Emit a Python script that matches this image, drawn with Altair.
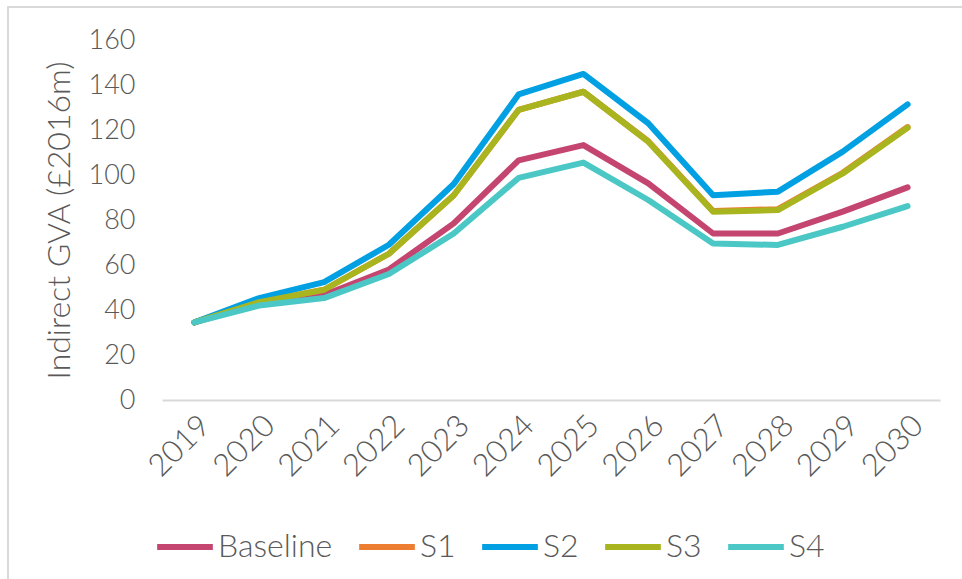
import altair as alt
import pandas as pd

years = ["2019", "2020", "2021", "2022", "2023", "2024", "2025", "2026", "2027", "2028", "2029", "2030"]
series = ["Baseline", "S1", "S2", "S3", "S4"]
baseline = [34.5, 43.0, 46.7, 58.0, 78.5, 106.5, 113.3, 96.3, 74.0, 74.0, 83.7, 94.5]
s1 = [34.5, 43.5, 49.0, 65.0, 91.0, 128.9, 137.0, 115.0, 84.0, 84.8, 101.0, 121.3]
s2 = [34.5, 45.3, 52.4, 69.0, 96.0, 135.8, 144.9, 123.0, 91.0, 92.6, 110.4, 131.4]
s3 = [34.5, 43.5, 49.0, 65.0, 91.0, 128.9, 137.0, 114.8, 83.7, 84.4, 100.7, 121.0]
s4 = [34.5, 42.0, 45.3, 56.0, 74.0, 98.7, 105.5, 88.9, 69.6, 68.9, 77.0, 86.2]
colors = ["#C4456F", "#ED7D31", "#00A0E3", "#A9B51E", "#4BC8C5"]

values = [baseline, s1, s2, s3, s4]
rows = []
for name, vals in zip(series, values):
    for y, v in zip(years, vals):
        rows.append({"Year": y, "Series": name, "Value": v})
df = pd.DataFrame(rows)

FONT = "Lato"
TXT = "#595959"

lines = alt.Chart(df).mark_line(strokeWidth=6, strokeCap="round", strokeJoin="round").encode(
    x=alt.X("Year:N", sort=years,
            scale=alt.Scale(type="point", padding=0.5),
            axis=alt.Axis(title=None, labelAngle=-45, labelFontSize=31, labelFont=FONT,
                          labelFontWeight=300, labelColor=TXT, ticks=False,
                          domainColor="#D9D9D9", domainWidth=2, labelPadding=10)),
    y=alt.Y("Value:Q", scale=alt.Scale(domain=[0, 160]),
            axis=alt.Axis(title="Indirect GVA (£2016m)", values=list(range(0, 161, 20)),
                          grid=False, domain=False, ticks=False,
                          labelFontSize=27, labelFont=FONT, labelFontWeight=300,
                          labelColor=TXT, labelPadding=27,
                          titleFontSize=32, titleFont=FONT, titleFontWeight=300,
                          titleColor=TXT, titlePadding=12)),
    color=alt.Color("Series:N", sort=series,
                    scale=alt.Scale(domain=series, range=colors),
                    legend=alt.Legend(title=None, orient="none", direction="horizontal",
                                      legendX=-8, legendY=476,
                                      symbolType="stroke", symbolStrokeWidth=6,
                                      symbolSize=3100, labelFontSize=32, labelFont=FONT,
                                      labelFontWeight=300, labelColor=TXT,
                                      columnPadding=14, labelOffset=2)),
)

frame = alt.Chart(pd.DataFrame({"a": [0]})).mark_rect(
    fill=None, stroke="#D9D9D9", strokeWidth=2
).encode(x=alt.value(-154), x2=alt.value(830), y=alt.value(-33), y2=alt.value(560))

chart = alt.layer(frame, lines).properties(
    width=778, height=360,
    autosize=alt.AutoSizeParams(type="none"),
    padding={"left": 162, "top": 40, "right": 22, "bottom": 179},
).configure_view(stroke=None)

chart.save("out.html", embed_options={"renderer": "svg", "actions": False})
